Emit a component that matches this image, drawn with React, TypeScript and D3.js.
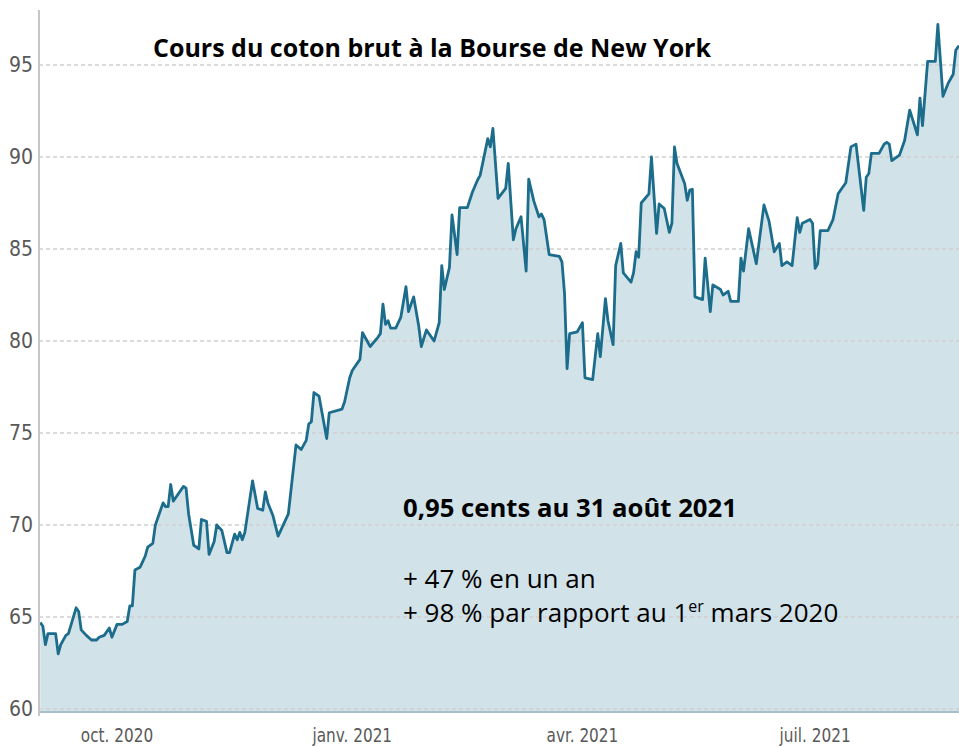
import React from "react";
import * as d3 from "d3";

const dates: string[] = [
  "2020-09-01","2020-09-02","2020-09-03","2020-09-04","2020-09-07","2020-09-08","2020-09-09","2020-09-11","2020-09-12","2020-09-15",
  "2020-09-16","2020-09-17","2020-09-19","2020-09-21","2020-09-23","2020-09-24","2020-09-26","2020-09-28","2020-09-29","2020-10-01",
  "2020-10-03","2020-10-05","2020-10-06","2020-10-07","2020-10-08","2020-10-10","2020-10-12","2020-10-13","2020-10-15","2020-10-16",
  "2020-10-19","2020-10-20","2020-10-21","2020-10-22","2020-10-23","2020-10-25","2020-10-27","2020-10-28","2020-10-29","2020-10-31",
  "2020-11-02","2020-11-03","2020-11-05","2020-11-06","2020-11-08","2020-11-09","2020-11-11","2020-11-13","2020-11-14","2020-11-16",
  "2020-11-17","2020-11-18","2020-11-19","2020-11-20","2020-11-23","2020-11-25","2020-11-27","2020-11-28","2020-11-29","2020-12-01",
  "2020-12-03","2020-12-07","2020-12-10","2020-12-12","2020-12-14","2020-12-15","2020-12-16","2020-12-17","2020-12-19","2020-12-22",
  "2020-12-23","2020-12-28","2020-12-29","2020-12-31","2021-01-01","2021-01-04","2021-01-05","2021-01-08","2021-01-11","2021-01-12",
  "2021-01-13","2021-01-14","2021-01-15","2021-01-16","2021-01-18","2021-01-20","2021-01-22","2021-01-23","2021-01-25","2021-01-27",
  "2021-01-28","2021-01-30","2021-02-02","2021-02-04","2021-02-05","2021-02-06","2021-02-08","2021-02-09","2021-02-11","2021-02-12",
  "2021-02-15","2021-02-17","2021-02-19","2021-02-20","2021-02-23","2021-02-24","2021-02-25","2021-02-27","2021-03-02","2021-03-03",
  "2021-03-05","2021-03-06","2021-03-08","2021-03-10","2021-03-11","2021-03-13","2021-03-15","2021-03-16","2021-03-17","2021-03-19",
  "2021-03-23","2021-03-24","2021-03-25","2021-03-26","2021-03-27","2021-03-30","2021-04-01","2021-04-02","2021-04-05","2021-04-07",
  "2021-04-08","2021-04-10","2021-04-11","2021-04-13","2021-04-14","2021-04-16","2021-04-17","2021-04-20","2021-04-21","2021-04-22",
  "2021-04-23","2021-04-24","2021-04-27","2021-04-28","2021-04-30","2021-05-01","2021-05-03","2021-05-05","2021-05-06","2021-05-07",
  "2021-05-08","2021-05-11","2021-05-12","2021-05-13","2021-05-14","2021-05-15","2021-05-18","2021-05-19","2021-05-21","2021-05-22",
  "2021-05-25","2021-05-26","2021-05-28","2021-05-29","2021-06-01","2021-06-02","2021-06-03","2021-06-05","2021-06-08","2021-06-11",
  "2021-06-13","2021-06-15","2021-06-17","2021-06-18","2021-06-20","2021-06-22","2021-06-24","2021-06-25","2021-06-26","2021-06-29",
  "2021-06-30","2021-07-01","2021-07-02","2021-07-03","2021-07-06","2021-07-08","2021-07-10","2021-07-13","2021-07-15","2021-07-17",
  "2021-07-20","2021-07-21","2021-07-22","2021-07-23","2021-07-26","2021-07-28","2021-07-29","2021-07-30","2021-07-31","2021-08-03",
  "2021-08-05","2021-08-07","2021-08-10","2021-08-11","2021-08-12","2021-08-14","2021-08-17","2021-08-18","2021-08-20","2021-08-22",
  "2021-08-24","2021-08-25","2021-08-26","2021-08-31"
];

const prices: number[] = [
  64.7,64.5,63.5,64.1,64.1,63.0,63.5,64.0,64.1,65.5,
  65.3,64.3,64.0,63.75,63.75,63.9,64.0,64.4,63.9,64.6,
  64.6,64.75,65.6,65.6,67.55,67.7,68.3,68.8,69.0,70.0,
  71.2,71.0,71.0,72.2,71.3,71.7,72.1,72.0,70.6,68.9,
  68.7,70.3,70.2,68.4,69.1,70.0,69.7,68.5,68.5,69.5,
  69.2,69.6,69.2,69.6,72.4,70.9,70.8,71.8,71.2,70.5,
  69.4,70.6,74.35,74.1,74.6,75.5,75.6,77.2,77.0,74.7,
  76.1,76.3,76.7,78.0,78.4,79.0,80.45,79.7,80.2,80.4,
  82.0,80.9,81.1,80.7,80.7,81.3,82.95,81.6,82.4,80.8,
  79.7,80.6,80.0,81.0,84.1,82.8,84.0,86.85,84.7,87.25,
  87.25,88.1,88.75,89.0,91.0,90.55,91.55,87.75,88.3,89.65,
  85.5,86.1,86.75,83.8,88.8,87.6,86.75,86.9,86.6,84.7,
  84.6,84.3,82.6,78.5,80.4,80.5,81.0,78.0,77.9,80.4,
  79.15,82.3,81.1,79.8,84.1,85.3,83.7,83.2,83.7,84.85,
  84.55,87.5,88.0,90.0,85.85,87.45,87.2,85.9,86.4,90.55,
  89.65,88.55,87.65,88.2,88.25,82.4,82.25,84.5,81.6,83.05,
  82.8,82.5,82.7,82.15,82.15,84.5,83.8,86.1,84.2,87.4,
  86.5,84.85,85.3,84.1,84.3,84.1,86.7,85.9,86.4,86.6,
  86.4,83.95,84.2,86.0,86.0,86.6,88.0,88.6,90.55,90.7,
  87.1,88.9,89.1,90.2,90.2,90.7,90.8,90.7,89.8,90.1,
  90.9,92.55,91.2,93.2,91.7,95.2,95.2,97.2,93.3,94.0,
  94.5,95.8,96.0,96.2
];

const yTicks: number[] = [60, 65, 70, 75, 80, 85, 90, 95];
const xTickDates: string[] = ["2020-10-01", "2021-01-01", "2021-04-01", "2021-07-01"];
const xTickLabels: string[] = ["oct. 2020", "janv. 2021", "avr. 2021", "juil. 2021"];

const titleText = "Cours du coton brut à la Bourse de New York";
const noteBold = "0,95 cents au 31 août 2021";
const noteLine1 = "+ 47 % en un an";
const noteLine2a = "+ 98 % par rapport au 1";
const noteLine2sup = "er";
const noteLine2b = " mars 2020";

const W = 959;
const H = 747;

export default function App() {
  const parse = d3.utcParse("%Y-%m-%d");
  const data = dates.map((d, i) => ({ date: parse(d) as Date, value: prices[i] }));

  const x = d3
    .scaleUtc()
    .domain([parse("2020-09-01") as Date, parse("2021-08-31") as Date])
    .range([40.3, 971.1]);
  const y = d3.scaleLinear().domain([60, 95]).range([709, 65]);

  const left = 39;
  const baseY = y(60) + 3;

  const line = d3
    .line<{ date: Date; value: number }>()
    .x((d) => x(d.date))
    .y((d) => y(d.value));
  const area = d3
    .area<{ date: Date; value: number }>()
    .x((d) => x(d.date))
    .y0(baseY)
    .y1((d) => y(d.value));

  const narrow = "'Liberation Sans Narrow', 'DejaVu Sans Condensed', sans-serif";
  const textFont = "'Open Sans', Lato, sans-serif";

  return (
    <svg
      width={W}
      height={H}
      style={{ position: "absolute", left: 0, top: 0, background: "#fff" }}
    >
      <defs>
        <clipPath id="plotClip">
          <rect x={left} y={0} width={W - left} height={H} />
        </clipPath>
      </defs>
      <g clipPath="url(#plotClip)">
        <path d={area(data) || ""} fill="#d1e2e9" stroke="none" />
      </g>
      {yTicks.map((t) => (
        <line
          key={"g" + t}
          x1={left}
          x2={W}
          y1={y(t)}
          y2={y(t)}
          stroke="#cfcfcf"
          strokeWidth={1.3}
          strokeDasharray="4,3"
        />
      ))}
      <line x1={left} x2={W} y1={baseY} y2={baseY} stroke="#a7bfcb" strokeWidth={2} />
      <g clipPath="url(#plotClip)">
        <path
          d={line(data) || ""}
          fill="none"
          stroke="#1c6d8c"
          strokeWidth={2.8}
          strokeLinejoin="round"
        />
      </g>
      <line x1={left} x2={left} y1={10} y2={716} stroke="#c6c6c6" strokeWidth={2} />
      {yTicks.map((t) => (
        <text
          key={"t" + t}
          x={33}
          y={y(t) + 7}
          textAnchor="end"
          fontFamily={narrow}
          fontSize={21}
          fill="#595959"
        >
          {t}
        </text>
      ))}
      {xTickDates.map((d, i) => (
        <text
          key={d}
          transform={`translate(${x(parse(d) as Date)},742) scale(0.85,1)`}
          textAnchor="middle"
          fontFamily={narrow}
          fontSize={20}
          fill="#595959"
        >
          {xTickLabels[i]}
        </text>
      ))}
      <text x={153} y={57} fontFamily={textFont} fontWeight="bold" fontSize={25} fill="#000">
        {titleText}
      </text>
      <text x={403} y={517} fontFamily={textFont} fontWeight="bold" fontSize={25.7} fill="#000">
        {noteBold}
      </text>
      <text x={403} y={588} fontFamily={textFont} fontSize={26} fill="#000">
        {noteLine1}
      </text>
      <text x={403} y={622} fontFamily={textFont} fontSize={26} fill="#000">
        {noteLine2a}
        <tspan fontSize={16} dy={-10}>{noteLine2sup}</tspan>
        <tspan dy={10}>{noteLine2b}</tspan>
      </text>
    </svg>
  );
}
